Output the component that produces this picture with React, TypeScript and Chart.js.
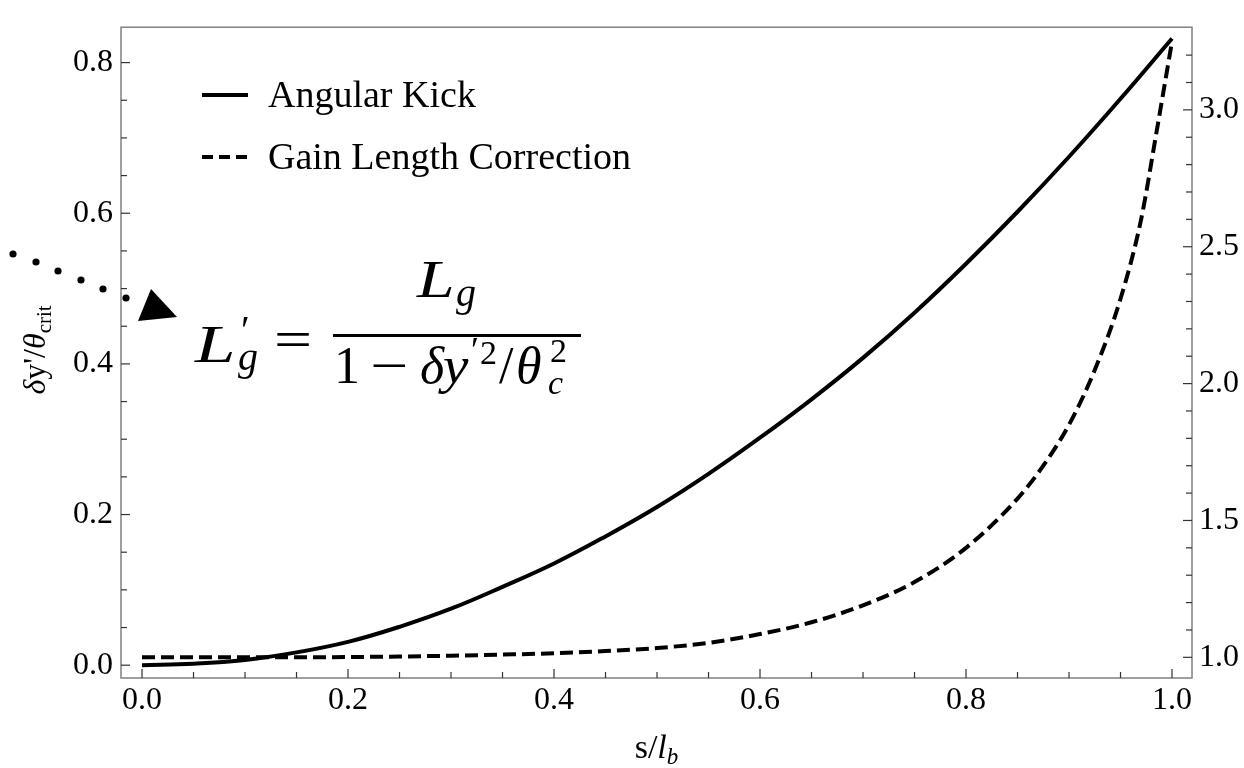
import React, { useEffect, useRef } from 'react';
import { Chart, registerables } from 'chart.js';

Chart.register(...registerables);

// ---- data ----
const S_KICK = [0, 0.05, 0.1, 0.15, 0.2, 0.25, 0.3, 0.35, 0.4, 0.45, 0.5, 0.55, 0.6, 0.65, 0.7, 0.75, 0.8, 0.85, 0.9, 0.95, 1.0];
const ANGULAR_KICK = [0, 0.002, 0.007, 0.017, 0.031, 0.051, 0.075, 0.104, 0.135, 0.171, 0.21, 0.254, 0.302, 0.353, 0.408, 0.468, 0.533, 0.602, 0.675, 0.752, 0.832];

const S_GAIN = [0, 0.1, 0.2, 0.25, 0.3, 0.35, 0.4, 0.45, 0.5, 0.55, 0.6, 0.65, 0.7, 0.75, 0.8, 0.85, 0.875, 0.9, 0.925, 0.95, 0.97, 0.985, 1.0];
const GAIN_CORRECTION = [1.0, 1.0, 1.001, 1.003, 1.006, 1.01, 1.015, 1.023, 1.034, 1.053, 1.085, 1.128, 1.19, 1.275, 1.4, 1.58, 1.7, 1.85, 2.05, 2.31, 2.6, 2.92, 3.25];

const X_TICKS = [0, 0.2, 0.4, 0.6, 0.8, 1.0];
const X_MINOR = [0.05, 0.1, 0.15, 0.25, 0.3, 0.35, 0.45, 0.5, 0.55, 0.65, 0.7, 0.75, 0.85, 0.9, 0.95];
const Y_LEFT_TICKS = [0, 0.2, 0.4, 0.6, 0.8];
const Y_LEFT_MINOR = [0.05, 0.1, 0.15, 0.25, 0.3, 0.35, 0.45, 0.5, 0.55, 0.65, 0.7, 0.75];
const Y_RIGHT_TICKS = [1.0, 1.5, 2.0, 2.5, 3.0];
const Y_RIGHT_MINOR = [1.1, 1.2, 1.3, 1.4, 1.6, 1.7, 1.8, 1.9, 2.1, 2.2, 2.3, 2.4, 2.6, 2.7, 2.8, 2.9, 3.1, 3.2];

const LEGEND_LABELS = ['Angular Kick', 'Gain Length Correction'];

const SERIF = '"Liberation Serif", "Times New Roman", serif';

type Run = { t: string; size: number; italic?: boolean; dy?: number; dx?: number };

function drawRuns(ctx: CanvasRenderingContext2D, x: number, y: number, runs: Run[]) {
  let cx = x;
  for (const r of runs) {
    ctx.font = `${r.italic ? 'italic ' : ''}${r.size}px ${SERIF}`;
    cx += r.dx || 0;
    ctx.fillText(r.t, cx, y + (r.dy || 0));
    cx += ctx.measureText(r.t).width;
  }
  return cx;
}

function runsWidth(ctx: CanvasRenderingContext2D, runs: Run[]) {
  let w = 0;
  for (const r of runs) {
    ctx.font = `${r.italic ? 'italic ' : ''}${r.size}px ${SERIF}`;
    w += ctx.measureText(r.t).width + (r.dx || 0);
  }
  return w;
}

// glyph drawn with optional horizontal stretch (to mimic the wider TeX font)
function glyph(ctx: CanvasRenderingContext2D, t: string, x: number, y: number, size: number, italic = false, sx = 1) {
  ctx.save();
  ctx.translate(x, y);
  ctx.scale(sx, 1);
  ctx.font = `${italic ? 'italic ' : ''}${size}px ${SERIF}`;
  ctx.fillText(t, 0, 0);
  ctx.restore();
}

export default function App() {
  const ref = useRef<HTMLCanvasElement>(null);

  useEffect(() => {
    const canvas = ref.current!;

    const decor = {
      id: 'decor',
      afterDraw(chart: any) {
        const { ctx, chartArea: a, scales } = chart;
        ctx.save();

        // frame
        ctx.strokeStyle = '#808080';
        ctx.lineWidth = 1.5;
        ctx.strokeRect(a.left, a.top, a.right - a.left, a.bottom - a.top);

        // tick marks (inward)
        ctx.strokeStyle = '#333';
        ctx.lineWidth = 1.2;
        const line = (x1: number, y1: number, x2: number, y2: number) => {
          ctx.beginPath();
          ctx.moveTo(x1, y1);
          ctx.lineTo(x2, y2);
          ctx.stroke();
        };
        X_TICKS.forEach((v) => { const p = scales.x.getPixelForValue(v); line(p, a.bottom, p, a.bottom - 9); });
        X_MINOR.forEach((v) => { const p = scales.x.getPixelForValue(v); line(p, a.bottom, p, a.bottom - 6); });
        Y_LEFT_TICKS.forEach((v) => { const p = scales.y.getPixelForValue(v); line(a.left, p, a.left + 9, p); });
        Y_LEFT_MINOR.forEach((v) => { const p = scales.y.getPixelForValue(v); line(a.left, p, a.left + 6, p); });
        Y_RIGHT_TICKS.forEach((v) => { const p = scales.y1.getPixelForValue(v); line(a.right, p, a.right - 9, p); });
        Y_RIGHT_MINOR.forEach((v) => { const p = scales.y1.getPixelForValue(v); line(a.right, p, a.right - 6, p); });

        ctx.fillStyle = '#000';
        ctx.textBaseline = 'alphabetic';
        ctx.textAlign = 'left';

        // legend
        const ds = chart.data.datasets;
        const legendY = [95, 157];
        ds.forEach((d: any, i: number) => {
          ctx.save();
          ctx.strokeStyle = d.borderColor;
          ctx.lineWidth = d.borderWidth;
          ctx.setLineDash(i === 0 ? [] : [11, 6]);
          ctx.beginPath();
          ctx.moveTo(202, legendY[i]);
          ctx.lineTo(248, legendY[i]);
          ctx.stroke();
          ctx.restore();
          ctx.font = `38px ${SERIF}`;
          ctx.fillText(LEGEND_LABELS[i], 268, legendY[i] + 12);
        });

        // x axis title: s/l_b
        {
          const runs: Run[] = [
            { t: 's/', size: 34 },
            { t: 'l', size: 34, italic: true },
            { t: 'b', size: 23, italic: true, dy: 6 },
          ];
          const w = runsWidth(ctx, runs);
          const cx = (a.left + a.right) / 2;
          drawRuns(ctx, cx - w / 2, 758, runs);
        }

        // y axis title: δy'/θ_crit (rotated)
        {
          ctx.save();
          ctx.translate(45, 350);
          ctx.rotate(-Math.PI / 2);
          const runs: Run[] = [
            { t: 'δ', size: 32, italic: true },
            { t: "y'/", size: 32 },
            { t: 'θ', size: 32, italic: true },
            { t: 'crit', size: 21, dy: 6 },
          ];
          const w = runsWidth(ctx, runs);
          drawRuns(ctx, -w / 2, 0, runs);
          ctx.restore();
        }

        // dotted arrow
        const dots = [[13, 254], [36, 262], [58, 271], [81, 280], [103, 289], [126, 298]];
        dots.forEach(([x, y]) => {
          ctx.beginPath();
          ctx.arc(x, y, 3.6, 0, Math.PI * 2);
          ctx.fill();
        });
        ctx.beginPath();
        ctx.moveTo(151, 289);
        ctx.lineTo(138, 321);
        ctx.lineTo(177, 317);
        ctx.closePath();
        ctx.fill();

        // formula L'_g = L_g / (1 - δy'^2/θ_c^2)
        glyph(ctx, 'L', 195, 362, 52, true, 1.4);
        glyph(ctx, '′', 241, 343, 40);
        glyph(ctx, 'g', 238, 370, 40, true);
        glyph(ctx, '=', 274, 357, 52, false, 1.3);
        ctx.fillRect(333, 334, 248, 3);
        glyph(ctx, 'L', 417, 297, 52, true, 1.3);
        glyph(ctx, 'g', 456, 306, 40, true);
        glyph(ctx, '1', 334, 383, 52);
        glyph(ctx, '−', 370, 383, 52, false, 1.3);
        glyph(ctx, 'δ', 420, 383, 52, true);
        glyph(ctx, 'y', 443, 383, 52, true, 1.1);
        glyph(ctx, '′', 471, 362, 36);
        glyph(ctx, '2', 480, 364, 34);
        glyph(ctx, '/', 499, 383, 52);
        glyph(ctx, 'θ', 516, 383, 52, true);
        glyph(ctx, '2', 550, 362, 34);
        glyph(ctx, 'c', 548, 394, 34, true);

        ctx.restore();
      },
    };

    const chart = new Chart(canvas, {
      type: 'line',
      data: {
        datasets: [
          {
            label: LEGEND_LABELS[0],
            data: S_KICK.map((s, i) => ({ x: s, y: ANGULAR_KICK[i] })),
            borderColor: '#000',
            borderWidth: 4,
            pointRadius: 0,
            tension: 0.4,
            fill: false,
            yAxisID: 'y',
          },
          {
            label: LEGEND_LABELS[1],
            data: S_GAIN.map((s, i) => ({ x: s, y: GAIN_CORRECTION[i] })),
            borderColor: '#000',
            borderWidth: 4,
            borderDash: [13, 6],
            pointRadius: 0,
            cubicInterpolationMode: 'monotone',
            fill: false,
            yAxisID: 'y1',
          },
        ],
      },
      options: {
        animation: false,
        responsive: false,
        devicePixelRatio: 1,
        events: [],
        layout: { padding: { top: 17, left: 0, right: 0, bottom: 0 } },
        plugins: { legend: { display: false }, tooltip: { enabled: false } },
        scales: {
          x: {
            type: 'linear',
            position: 'bottom',
            min: -0.0204,
            max: 1.0194,
            grid: { display: false, drawTicks: false },
            border: { display: false },
            afterBuildTicks: (s: any) => { s.ticks = X_TICKS.map((v) => ({ value: v })); },
            afterFit: (s: any) => { s.height = 90; },
            ticks: {
              padding: 3,
              color: '#000',
              font: { family: SERIF, size: 32 },
              callback: (v: any) => Number(v).toFixed(1),
              maxRotation: 0,
            },
          },
          y: {
            type: 'linear',
            position: 'left',
            min: -0.017,
            max: 0.847,
            grid: { display: false, drawTicks: false },
            border: { display: false },
            afterBuildTicks: (s: any) => { s.ticks = Y_LEFT_TICKS.map((v) => ({ value: v })); },
            afterFit: (s: any) => { s.width = 121; },
            ticks: {
              padding: 8,
              color: '#000',
              font: { family: SERIF, size: 32 },
              callback: (v: any) => Number(v).toFixed(1),
            },
          },
          y1: {
            type: 'linear',
            position: 'right',
            min: 0.9245,
            max: 3.302,
            grid: { display: false, drawTicks: false },
            border: { display: false },
            afterBuildTicks: (s: any) => { s.ticks = Y_RIGHT_TICKS.map((v) => ({ value: v })); },
            afterFit: (s: any) => { s.width = 52; },
            ticks: {
              padding: 7,
              color: '#000',
              font: { family: SERIF, size: 32 },
              callback: (v: any) => Number(v).toFixed(1),
            },
          },
        },
      },
      plugins: [decor],
    } as any);

    return () => chart.destroy();
  }, []);

  return (
    <div style={{ position: 'fixed', left: 0, top: 0, width: 1244, height: 768, background: '#fff' }}>
      <canvas ref={ref} width={1244} height={768} style={{ display: 'block', width: 1244, height: 768 }} />
    </div>
  );
}
